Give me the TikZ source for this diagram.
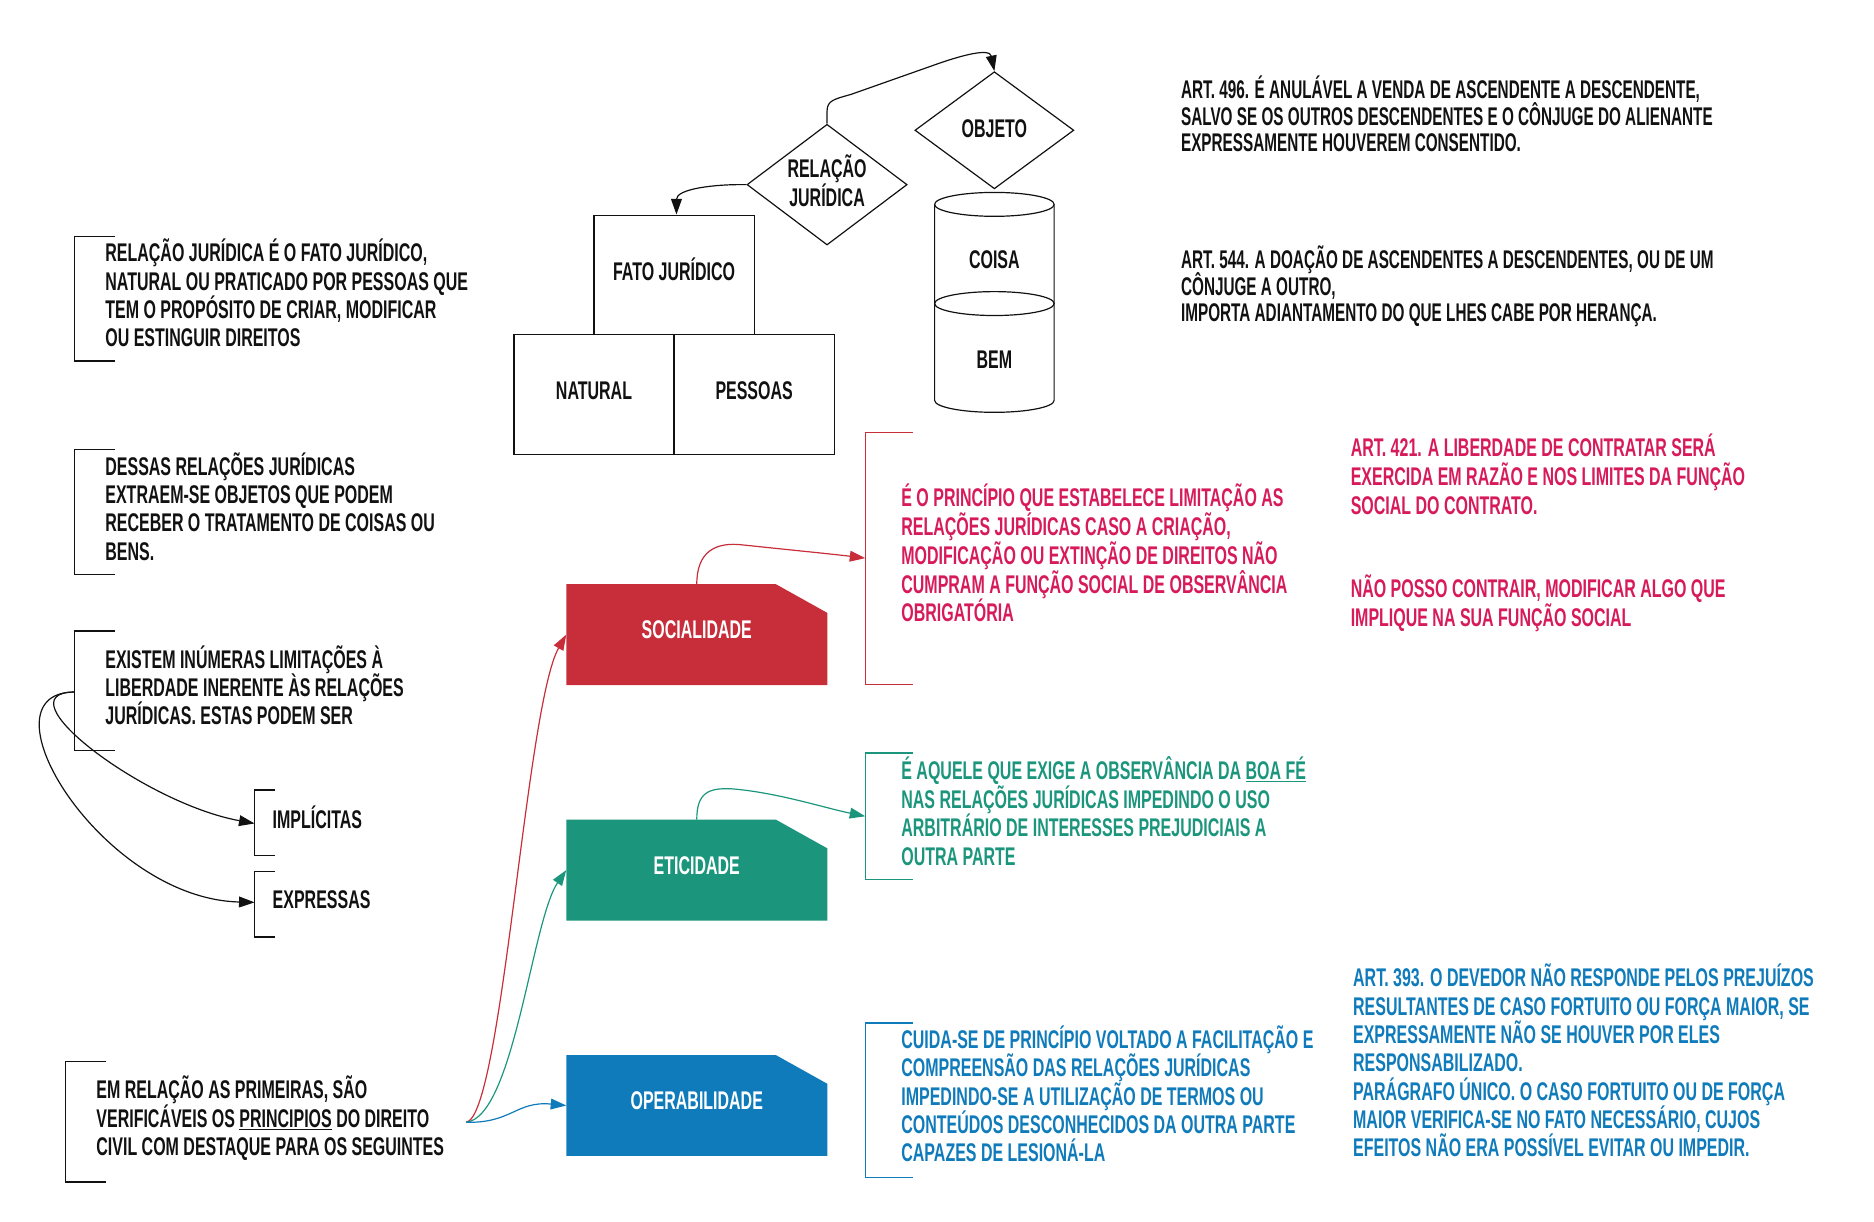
\documentclass[tikz,border=0pt]{standalone}
\usepackage{fontspec}
\newfontfamily\ft{Liberation Sans}[FakeStretch=0.625]
\newfontfamily\ftn{Liberation Sans}[FakeStretch=0.598]
\usetikzlibrary{shapes.geometric,arrows.meta}
\definecolor{sred}{HTML}{C82D3A}
\definecolor{pinktxt}{HTML}{D71A5A}
\definecolor{teal2}{HTML}{1B967D}
\definecolor{blue2}{HTML}{0F7BBB}
\definecolor{ink}{HTML}{111111}
\newcommand\fs{\rule{0pt}{20pt}}
\pgfdeclarelayer{bg}
\pgfsetlayers{bg,main}
\begin{document}
\lineskiplimit=-100pt
\begin{tikzpicture}[x=1pt,y=1pt,
  every node/.style={font=\ft\bfseries\fontsize{21.4}{23.7}\selectfont,text=ink},
  txt/.style={anchor=north west,inner sep=0pt,align=left},
  tight/.style={font=\ftn\bfseries\fontsize{21.4}{22.3}\selectfont},
  wide/.style={font=\ft\bfseries\fontsize{21.4}{24}\selectfont},
  brk/.style={line width=1pt,draw=ink},
  box/.style={draw=ink,line width=1pt,minimum width=134pt,minimum height=100pt,inner sep=0pt,text height=15.3pt,text depth=6pt},
  dia/.style={diamond,draw=ink,line width=1pt,inner sep=0pt,align=center},
  conn/.style={line width=1pt,-{Triangle[length=13pt,width=9pt]}},
  tag/.style={minimum width=218pt,minimum height=84pt,inner sep=0pt,text=white,text height=15.3pt,text depth=8pt}
]
\useasboundingbox (0,0) rectangle (1568,-1022);

% ---------- left black texts ----------
\node[txt] (t1) at (88,-199) {\fs RELAÇÃO JURÍDICA É O FATO JURÍDICO,\\NATURAL OU PRATICADO POR PESSOAS QUE\\TEM O PROPÓSITO DE CRIAR, MODIFICAR\\OU ESTINGUIR DIREITOS};
\draw[brk] (96,-198) -- (62,-198) -- (62,-302) -- (96,-302);

\node[txt] (t2) at (88,-377.4) {\fs DESSAS RELAÇÕES JURÍDICAS\\EXTRAEM-SE OBJETOS QUE PODEM\\RECEBER O TRATAMENTO DE COISAS OU\\BENS.};
\draw[brk] (96,-376) -- (62,-376) -- (62,-481) -- (96,-481);

\node[txt] (t3) at (88,-539) {\fs EXISTEM INÚMERAS LIMITAÇÕES À\\LIBERDADE INERENTE ÀS RELAÇÕES\\JURÍDICAS. ESTAS PODEM SER};
\draw[brk] (96,-528) -- (62,-528) -- (62,-628) -- (96,-628);
\coordinate (b3) at (62,-579);

\node[txt] (imp) at (228,-673) {\fs IMPLÍCITAS};
\draw[brk] (230,-661) -- (213,-661) -- (213,-716) -- (230,-716);
\coordinate (impb) at (213,-689);

\node[txt] (exp) at (228,-740) {\fs EXPRESSAS};
\draw[brk] (230,-729) -- (213,-729) -- (213,-784) -- (230,-784);
\coordinate (expb) at (213,-755);

\draw[conn,ink] (b3) .. controls (0,-580) and (120,-672) .. (impb);
\draw[conn,ink] (b3) .. controls (-20,-580) and (85,-752) .. (expb);

\node[txt,wide] (t4) at (80.5,-899) {\fs EM RELAÇÃO AS PRIMEIRAS, SÃO\\VERIFICÁVEIS OS \underline{PRINCIPIOS} DO DIREITO\\CIVIL COM DESTAQUE PARA OS SEGUINTES};
\draw[brk] (89,-888) -- (55,-888) -- (55,-989) -- (89,-989);
\coordinate (em) at (390,-939);

% ---------- tags ----------
\node[tag] (soc) at (583,-531) {SOCIALIDADE};
\node[tag] (eti) at (583,-728) {ETICIDADE};
\node[tag] (ope) at (583,-925) {OPERABILIDADE};
\begin{pgfonlayer}{bg}
\fill[sred] (soc.south west) -- (soc.north west) -- ([xshift=-43pt]soc.north east) -- ([yshift=-24pt]soc.north east) -- (soc.south east) -- cycle;
\fill[teal2] (eti.south west) -- (eti.north west) -- ([xshift=-43pt]eti.north east) -- ([yshift=-24pt]eti.north east) -- (eti.south east) -- cycle;
\fill[blue2] (ope.south west) -- (ope.north west) -- ([xshift=-43pt]ope.north east) -- ([yshift=-24pt]ope.north east) -- (ope.south east) -- cycle;
\end{pgfonlayer}

\draw[conn,sred] (em) .. controls (420,-935) and (440,-590) .. (soc.west);
\draw[conn,teal2] (em) .. controls (430,-935) and (445,-770) .. (eti.west);
\draw[conn,blue2] (em) .. controls (428,-940) and (432,-921) .. (ope.west);

% ---------- coloured explanations ----------
\draw[line width=1pt,sred] (764,-362) -- (724,-362) -- (724,-573) -- (764,-573);
\coordinate (redb) at (724,-467);
\node[txt,wide,text=pinktxt] (dsoc) at (754,-404) {\fs É O PRINCÍPIO QUE ESTABELECE LIMITAÇÃO AS\\RELAÇÕES JURÍDICAS CASO A CRIAÇÃO,\\MODIFICAÇÃO OU EXTINÇÃO DE DIREITOS NÃO\\CUMPRAM A FUNÇÃO SOCIAL DE OBSERVÂNCIA\\OBRIGATÓRIA};
\draw[conn,sred] (soc.north) .. controls (583,-462) and (598,-453) .. (622,-456) .. controls (660,-460) and (700,-464) .. (redb);

\draw[line width=1pt,teal2] (764,-630) -- (724,-630) -- (724,-736) -- (764,-736);
\coordinate (tealb) at (724,-683);
\node[txt,wide,text=teal2] (deti) at (754,-632) {\fs É AQUELE QUE EXIGE A OBSERVÂNCIA DA \underline{BOA FÉ}\\NAS RELAÇÕES JURÍDICAS IMPEDINDO O USO\\ARBITRÁRIO DE INTERESSES PREJUDICIAIS A\\OUTRA PARTE};
\draw[conn,teal2] (eti.north) .. controls (583,-664) and (592,-659) .. (612,-660) .. controls (650,-663) and (690,-676) .. (tealb);

\draw[line width=1pt,blue2] (764,-856) -- (724,-856) -- (724,-985) -- (764,-985);
\node[txt,text=blue2] (dope) at (754,-857) {\fs CUIDA-SE DE PRINCÍPIO VOLTADO A FACILITAÇÃO E\\COMPREENSÃO DAS RELAÇÕES JURÍDICAS\\IMPEDINDO-SE A UTILIZAÇÃO DE TERMOS OU\\CONTEÚDOS DESCONHECIDOS DA OUTRA PARTE\\CAPAZES DE LESIONÁ-LA};

% ---------- articles ----------
\node[txt,tight] (a496) at (988,-62.3) {\fs ART. 496. É ANULÁVEL A VENDA DE ASCENDENTE A DESCENDENTE,\\SALVO SE OS OUTROS DESCENDENTES E O CÔNJUGE DO ALIENANTE\\EXPRESSAMENTE HOUVEREM CONSENTIDO.};
\node[txt,tight] (a544) at (988,-204.5) {\fs ART. 544. A DOAÇÃO DE ASCENDENTES A DESCENDENTES, OU DE UM\\CÔNJUGE A OUTRO,\\IMPORTA ADIANTAMENTO DO QUE LHES CABE POR HERANÇA.};
\node[txt,wide,text=pinktxt] (a421) at (1130,-362) {\fs ART. 421. A LIBERDADE DE CONTRATAR SERÁ\\EXERCIDA EM RAZÃO E NOS LIMITES DA FUNÇÃO\\SOCIAL DO CONTRATO.};
\node[txt,wide,text=pinktxt] (nota) at (1130,-480) {\fs NÃO POSSO CONTRAIR, MODIFICAR ALGO QUE\\IMPLIQUE NA SUA FUNÇÃO SOCIAL};
\node[txt,text=blue2] (a393) at (1132,-805.5) {\fs ART. 393. O DEVEDOR NÃO RESPONDE PELOS PREJUÍZOS\\RESULTANTES DE CASO FORTUITO OU FORÇA MAIOR, SE\\EXPRESSAMENTE NÃO SE HOUVER POR ELES\\RESPONSABILIZADO.\\PARÁGRAFO ÚNICO. O CASO FORTUITO OU DE FORÇA\\MAIOR VERIFICA-SE NO FATO NECESSÁRIO, CUJOS\\EFEITOS NÃO ERA POSSÍVEL EVITAR OU IMPEDIR.};

% ---------- top diagram ----------
\node[box] (fato) at (564,-230) {FATO JURÍDICO};
\node[box] (nat) at (497,-330) {NATURAL};
\node[box] (pes) at (631,-330) {PESSOAS};
\node[dia,aspect=1.33,minimum width=134pt,minimum height=101pt,text depth=7pt] (rj) at (692,-154.5) {RELAÇÃO\\JURÍDICA};
\node[dia,aspect=1.36,minimum width=133pt,minimum height=98pt,text height=15.3pt,text depth=4pt] (obj) at (832,-109) {OBJETO};

\draw[line width=1pt,ink] (782,-171) -- (782,-335) arc[start angle=180,end angle=360,x radius=50,y radius=10] -- (882,-171);
\draw[line width=1pt,ink] (832,-171) ellipse[x radius=50,y radius=10];
\draw[line width=1pt,ink] (832,-254) ellipse[x radius=50,y radius=10];
\node (coisa) at (832,-217) {COISA};
\node (bem) at (832,-301) {BEM};

\draw[conn,ink] (rj.west) .. controls (598,-154) and (566,-158) .. ([xshift=2pt]fato.north);
\draw[conn,ink] (rj.north) -- (692,-93) .. controls (692,-84) and (698,-83) .. (712,-79) -- (780,-55) .. controls (805,-46) and (828,-40) .. (obj.north);
\end{tikzpicture}
\end{document}
